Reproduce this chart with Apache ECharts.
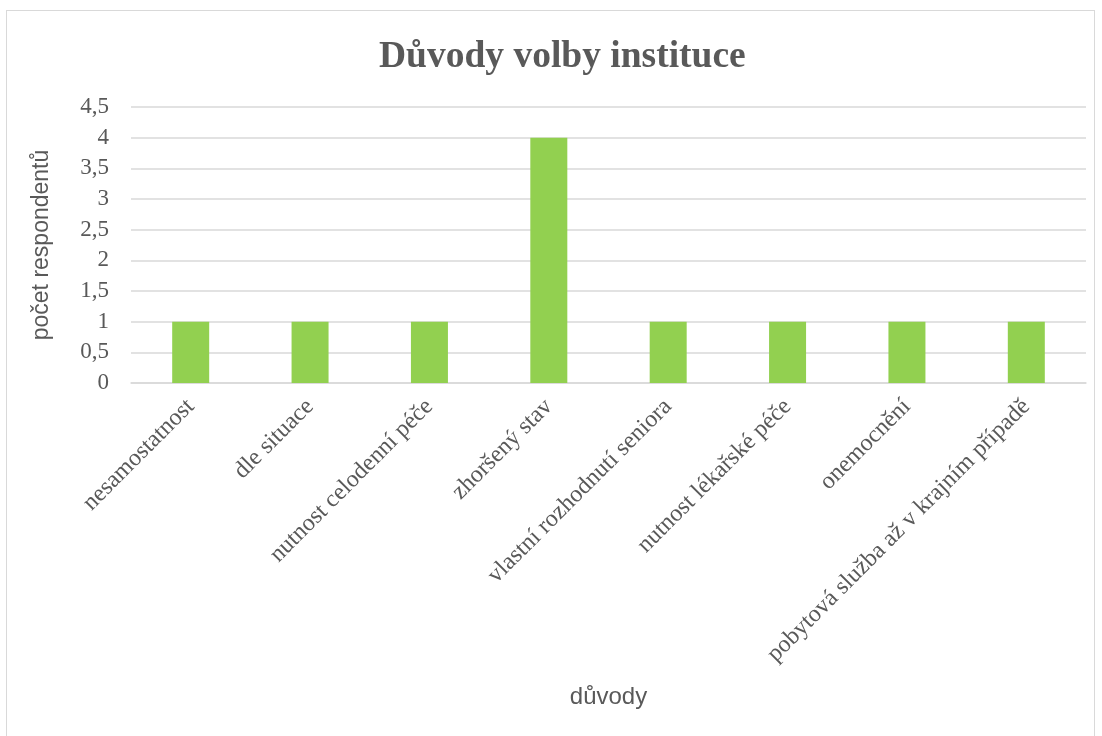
<!DOCTYPE html>
<html>
<head>
<meta charset="utf-8">
<script src="https://cdn.jsdelivr.net/npm/echarts@6/dist/echarts.min.js"></script>
<style>
html,body{margin:0;padding:0;background:#fff;}
#frame{position:absolute;left:6px;top:10px;width:1089px;height:730px;border:1px solid #d9d9d9;box-sizing:border-box;}
#chart{position:absolute;left:0;top:0;width:1102px;height:736px;}
</style>
</head>
<body>
<div id="frame"></div>
<div id="chart"></div>
<script>
const categories = ["nesamostatnost","dle situace","nutnost celodenní péče","zhoršený stav","vlastní rozhodnutí seniora","nutnost lékařské péče","onemocnění","pobytová služba až v krajním případě"];
const values = [1,1,1,4,1,1,1,1];
const titleText = "Důvody volby instituce";
const yAxisName = "počet respondentů";
const xAxisName = "důvody";

const chart = echarts.init(document.getElementById('chart'), null, {renderer:'canvas'});
chart.setOption({
  backgroundColor: 'transparent',
  animation: false,
  title: {
    text: titleText, left: 374, top: 33,
    textStyle: {fontFamily: 'Liberation Serif', fontWeight: 'bold', fontSize: 37.5, color: '#595959'}
  },
  grid: {left: 131, right: 16, top: 107, bottom: 353, containLabel: false},
  xAxis: {
    type: 'category', data: categories,
    name: xAxisName, nameLocation: 'middle', nameGap: 302,
    nameTextStyle: {fontFamily: 'Liberation Sans', fontSize: 24, color: '#595959'},
    axisLine: {lineStyle: {color: '#d9d9d9', width: 1.5}},
    axisTick: {show: false},
    axisLabel: {rotate: 45, interval: 0, margin: 20, fontFamily: 'Liberation Serif', fontSize: 24, color: '#595959'}
  },
  yAxis: {
    type: 'value', min: 0, max: 4.5, interval: 0.5,
    name: yAxisName, nameLocation: 'middle', nameGap: 78,
    nameTextStyle: {fontFamily: 'Liberation Sans', fontSize: 23, color: '#595959'},
    axisLine: {show: false}, axisTick: {show: false},
    axisLabel: {margin: 22, fontFamily: 'Liberation Serif', fontSize: 23, color: '#595959',
      formatter: v => String(v).replace('.', ',')},
    splitLine: {lineStyle: {color: '#d9d9d9', width: 1.5}}
  },
  series: [{
    type: 'bar', data: values, barWidth: 37,
    itemStyle: {color: '#92d050'}
  }]
});
</script>
</body>
</html>
